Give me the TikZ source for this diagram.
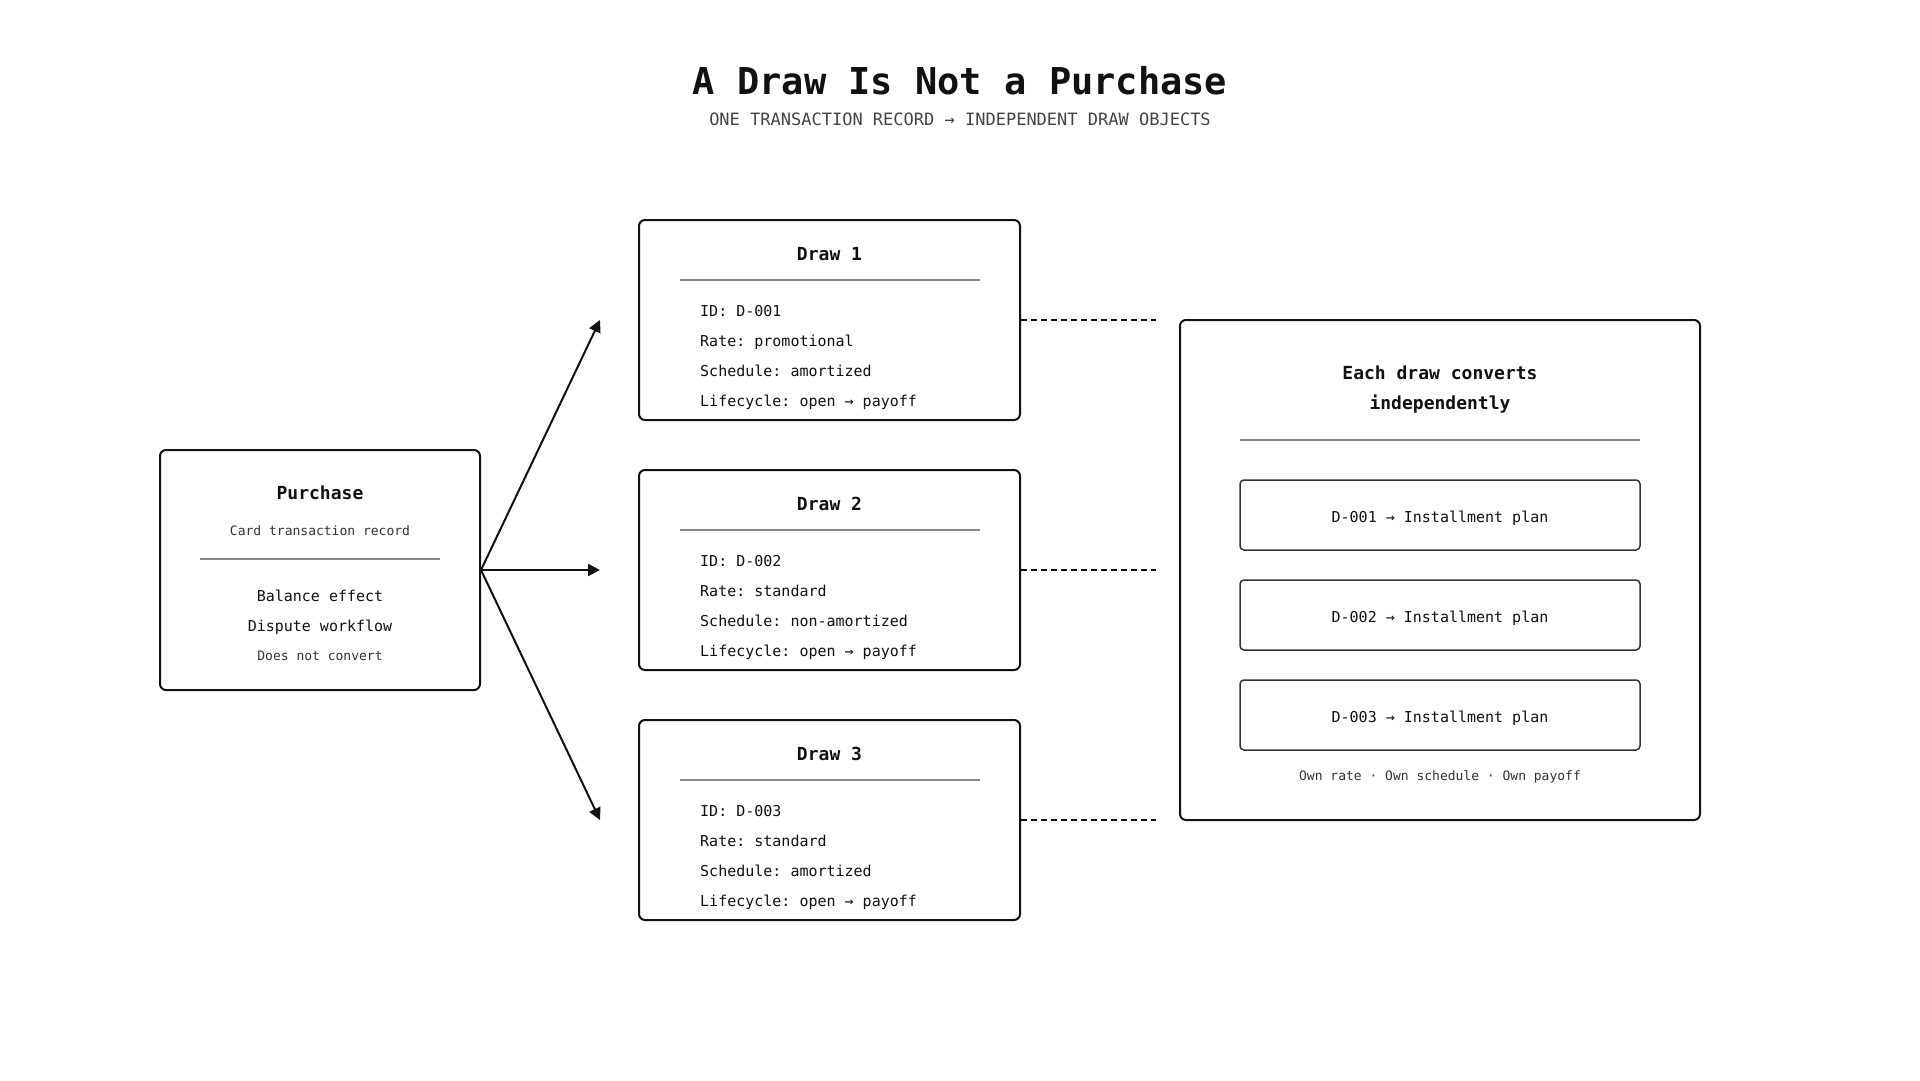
\documentclass[tikz,border=0pt]{standalone}
\usepackage{fontspec}
\setmonofont{DejaVu Sans Mono}
\usepackage{xcolor}
\usetikzlibrary{positioning,calc,arrows.meta}

\definecolor{ink}{HTML}{111111}
\definecolor{subgray}{HTML}{444444}
\definecolor{rulegray}{HTML}{888888}
\definecolor{plangray}{HTML}{333333}

\tikzset{
  box/.style={draw=ink, line width=2pt, rounded corners=6pt, inner sep=0pt},
  planbox/.style={draw=plangray, line width=1.5pt, rounded corners=4pt, inner sep=0pt,
    minimum width=400pt, minimum height=70pt, text height=15pt, text depth=0pt, text=ink,
    font=\ttfamily\fontsize{15}{18}\selectfont},
  ttl/.style={anchor=mid, yshift=-4pt, inner sep=0pt, text=ink, font=\ttfamily\bfseries\fontsize{18}{22}\selectfont},
  body/.style={anchor=mid west, yshift=-4pt, inner sep=0pt, text=ink, font=\ttfamily\fontsize{15}{18}\selectfont},
  bodyc/.style={anchor=mid, yshift=-4pt, inner sep=0pt, text=ink, font=\ttfamily\fontsize{15}{18}\selectfont},
  small/.style={anchor=mid, yshift=-3pt, inner sep=0pt, text=plangray, font=\ttfamily\fontsize{13}{16}\selectfont},
  sep/.style={draw=rulegray, line width=1.5pt},
  flow/.style={draw=ink, line width=2pt, -{Triangle[length=12pt,width=12pt]}},
  link/.style={draw=ink, line width=1.6pt, dash pattern=on 6pt off 4pt}
}

\begin{document}
\begin{tikzpicture}[x=1pt, y=-1pt]
    % Page
    \fill[white] (0,0) rectangle (1920,1080);
    \useasboundingbox (0,0) rectangle (1920,1080);

    % Title
    \node[anchor=mid, text=ink, font=\ttfamily\bfseries\fontsize{37}{44}\selectfont] (title) at (960,92) {A Draw Is Not a Purchase};
    \node[anchor=mid, text=subgray, font=\ttfamily\fontsize{17}{20}\selectfont] (subtitle) at (960,123) {ONE TRANSACTION RECORD → INDEPENDENT DRAW OBJECTS};

    % Purchase record
    \node[box, minimum width=320pt, minimum height=240pt] (purchase) at (320,570) {};
    \node[ttl] (purchaseTitle) at (320,493) {Purchase};
    \node[small] (purchaseSub) at (320,530) {Card transaction record};
    \draw[sep] (200,559) -- (440,559);
    \node[bodyc] (balance) at (320,595) {Balance effect};
    \node[bodyc] (dispute) at (320,625) {Dispute workflow};
    \node[small] (noconvert) at (320,655) {Does not convert};

    % Draw objects
    \node[box, minimum width=381pt, minimum height=200pt] (draw1) at (829.5,320) {};
    \node[ttl] (draw1Title) at (829.5,254) {Draw 1};
    \draw[sep] (680,280) -- (980,280);
    \node[body] (draw1id) at (700,310) {ID: D-001};
    \node[body] (draw1rate) at (700,340) {Rate: promotional};
    \node[body] (draw1sched) at (700,370) {Schedule: amortized};
    \node[body] (draw1life) at (700,400) {Lifecycle: open → payoff};

    \node[box, minimum width=381pt, minimum height=200pt] (draw2) at (829.5,570) {};
    \node[ttl] (draw2Title) at (829.5,504) {Draw 2};
    \draw[sep] (680,530) -- (980,530);
    \node[body] (draw2id) at (700,560) {ID: D-002};
    \node[body] (draw2rate) at (700,590) {Rate: standard};
    \node[body] (draw2sched) at (700,620) {Schedule: non-amortized};
    \node[body] (draw2life) at (700,650) {Lifecycle: open → payoff};

    \node[box, minimum width=381pt, minimum height=200pt] (draw3) at (829.5,820) {};
    \node[ttl] (draw3Title) at (829.5,754) {Draw 3};
    \draw[sep] (680,780) -- (980,780);
    \node[body] (draw3id) at (700,810) {ID: D-003};
    \node[body] (draw3rate) at (700,840) {Rate: standard};
    \node[body] (draw3sched) at (700,870) {Schedule: amortized};
    \node[body] (draw3life) at (700,900) {Lifecycle: open → payoff};

    % Fan-out arrows
    \coordinate (tip1) at (600,320);
    \coordinate (tip2) at (600,570);
    \coordinate (tip3) at (600,820);
    \draw[flow] (purchase.east) -- (tip1);
    \draw[flow] (purchase.east) -- (tip2);
    \draw[flow] (purchase.east) -- (tip3);

    % Conversion panel
    \node[box, minimum width=520pt, minimum height=500pt] (convert) at (1440,570) {};
    \node[ttl] (convertTitleA) at (1440,373) {Each draw converts};
    \node[ttl] (convertTitleB) at (1440,403) {independently};
    \draw[sep] (1240,440) -- (1640,440);
    \node[planbox] (plan1) at (1440,515) {D-001 → Installment plan};
    \node[planbox] (plan2) at (1440,615) {D-002 → Installment plan};
    \node[planbox] (plan3) at (1440,715) {D-003 → Installment plan};
    \node[small] (ownnote) at (1440,775) {Own rate · Own schedule · Own payoff};

    % Dashed links
    \coordinate (end1) at (1156,320);
    \coordinate (end2) at (1156,570);
    \coordinate (end3) at (1156,820);
    \draw[link] (draw1.east) -- (end1);
    \draw[link] (draw2.east) -- (end2);
    \draw[link] (draw3.east) -- (end3);
\end{tikzpicture}
\end{document}
